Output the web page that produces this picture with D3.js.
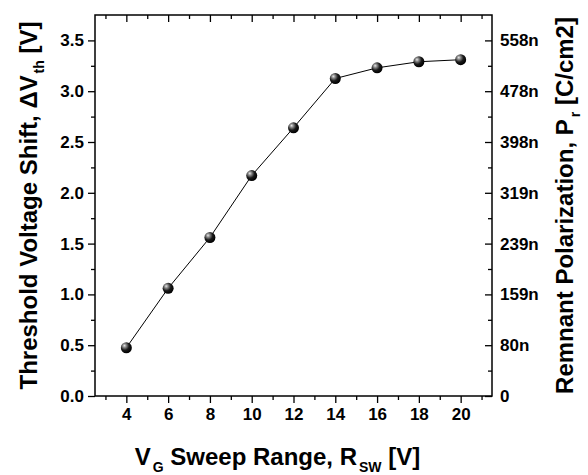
<!DOCTYPE html>
<html>
<head>
<meta charset="utf-8">
<script src="https://cdn.jsdelivr.net/npm/d3@7"></script>
<style>
  html, body { margin: 0; padding: 0; background: #fff; }
  svg { display: block; }
  text { font-family: "Liberation Sans", Arial, sans-serif; font-weight: bold; fill: #000; }
</style>
</head>
<body>
<svg id="chart" width="588" height="475"></svg>
<script>
// Sweep range (V) and measured threshold voltage shift (V)
const sweepRange = [4, 6, 8, 10, 12, 14, 16, 18, 20];
const deltaVth   = [0.475, 1.06, 1.56, 2.17, 2.64, 3.125, 3.23, 3.29, 3.31];

// Axis ticks
const xMajorTicks = [4, 6, 8, 10, 12, 14, 16, 18, 20];
const xMinorTicks = [3, 5, 7, 9, 11, 13, 15, 17, 19, 21];
const yMajorTicks = [0, 0.5, 1.0, 1.5, 2.0, 2.5, 3.0, 3.5];
const yMinorTicks = [0.25, 0.75, 1.25, 1.75, 2.25, 2.75, 3.25];
const yRightLabels = ["0", "80n", "159n", "239n", "319n", "398n", "478n", "558n"];

(function draw() {
  const svg = d3.select("#chart");
  const mLeft = 95, mRight = 492, mTop = 15, mBottom = 396;

  const x = d3.scaleLinear().domain([2.5, 21.5]).range([mLeft, mRight]);
  const y = d3.scaleLinear().domain([0, 3.75]).range([mBottom, mTop]);

  // Shaded sphere marker
  const defs = svg.append("defs");
  const grad = defs.append("radialGradient")
    .attr("id", "ball").attr("cx", "38%").attr("cy", "35%").attr("r", "65%")
    .attr("fx", "32%").attr("fy", "30%");
  grad.append("stop").attr("offset", "0%").attr("stop-color", "#e8e8e8");
  grad.append("stop").attr("offset", "25%").attr("stop-color", "#8a8a8a");
  grad.append("stop").attr("offset", "60%").attr("stop-color", "#1a1a1a");
  grad.append("stop").attr("offset", "100%").attr("stop-color", "#000");

  const tickFont = "17px";
  function styleAxis(g) {
    g.select(".domain").remove();
    g.selectAll("line").attr("stroke", "#000").attr("stroke-width", 1.3);
    g.selectAll("text").style("font-size", tickFont).attr("fill", "#000");
  }

  // Bottom axis (ticks outward)
  svg.append("g").attr("transform", `translate(0,${mBottom})`)
    .call(d3.axisBottom(x).tickValues(xMajorTicks).tickSize(7).tickPadding(5).tickFormat(d3.format("d")))
    .call(styleAxis);
  svg.append("g").attr("transform", `translate(0,${mBottom})`)
    .call(d3.axisBottom(x).tickValues(xMinorTicks).tickSize(4).tickFormat(""))
    .call(styleAxis);

  // Top axis (ticks inward)
  svg.append("g").attr("transform", `translate(0,${mTop})`)
    .call(d3.axisBottom(x).tickValues(xMajorTicks).tickSize(7).tickFormat(""))
    .call(styleAxis);
  svg.append("g").attr("transform", `translate(0,${mTop})`)
    .call(d3.axisBottom(x).tickValues(xMinorTicks).tickSize(4).tickFormat(""))
    .call(styleAxis);

  // Left axis (ticks outward)
  svg.append("g").attr("transform", `translate(${mLeft},0)`)
    .call(d3.axisLeft(y).tickValues(yMajorTicks).tickSize(7).tickPadding(4).tickFormat(d3.format(".1f")))
    .call(styleAxis);
  svg.append("g").attr("transform", `translate(${mLeft},0)`)
    .call(d3.axisLeft(y).tickValues(yMinorTicks).tickSize(4).tickFormat(""))
    .call(styleAxis);

  // Right axis (ticks inward, remnant polarization labels)
  svg.append("g").attr("transform", `translate(${mRight},0)`)
    .call(d3.axisLeft(y).tickValues(yMajorTicks).tickSize(7).tickFormat(""))
    .call(styleAxis);
  svg.append("g").attr("transform", `translate(${mRight},0)`)
    .call(d3.axisLeft(y).tickValues(yMinorTicks).tickSize(4).tickFormat(""))
    .call(styleAxis);
  svg.append("g").selectAll("text").data(yMajorTicks).join("text")
    .attr("x", mRight + 8).attr("y", d => y(d)).attr("dy", "0.35em")
    .style("font-size", tickFont)
    .text((d, i) => yRightLabels[i]);

  // Frame
  svg.append("rect").attr("x", mLeft).attr("y", mTop)
    .attr("width", mRight - mLeft).attr("height", mBottom - mTop)
    .attr("fill", "none").attr("stroke", "#000").attr("stroke-width", 1.5);

  // Data line and markers
  const pts = sweepRange.map((v, i) => [v, deltaVth[i]]);
  svg.append("path").datum(pts)
    .attr("fill", "none").attr("stroke", "#000").attr("stroke-width", 1)
    .attr("d", d3.line().x(d => x(d[0])).y(d => y(d[1])));
  svg.append("g").selectAll("circle").data(pts).join("circle")
    .attr("cx", d => x(d[0])).attr("cy", d => y(d[1])).attr("r", 5.5)
    .attr("fill", "url(#ball)");

  // Axis titles
  const titleSize = "24px", subSize = "14px";
  const xt = svg.append("text").attr("x", (mLeft + mRight) / 2 - 16).attr("y", 465)
    .attr("text-anchor", "middle").style("font-size", titleSize);
  xt.append("tspan").text("V");
  xt.append("tspan").attr("dx", 2).attr("dy", 7).style("font-size", subSize).text("G");
  xt.append("tspan").attr("dy", -7).text(" Sweep Range, R");
  xt.append("tspan").attr("dx", 2).attr("dy", 7).style("font-size", subSize).text("SW");
  xt.append("tspan").attr("dy", -7).text(" [V]");

  const yl = svg.append("text")
    .attr("transform", `translate(37,${(mTop + mBottom) / 2}) rotate(-90)`)
    .attr("text-anchor", "middle").style("font-size", titleSize);
  yl.append("tspan").text("Threshold Voltage Shift, \u0394V");
  yl.append("tspan").attr("dx", 2).attr("dy", 7).style("font-size", subSize).text("th");
  yl.append("tspan").attr("dy", -7).text(" [V]");

  const yr = svg.append("text")
    .attr("transform", `translate(573,${(mTop + mBottom) / 2}) rotate(-90)`)
    .attr("text-anchor", "middle").style("font-size", titleSize);
  yr.append("tspan").text("Remnant Polarization, P");
  yr.append("tspan").attr("dx", 2).attr("dy", 7).style("font-size", subSize).text("r");
  yr.append("tspan").attr("dy", -7).text(" [C/cm2]");
})();
</script>
</body>
</html>
